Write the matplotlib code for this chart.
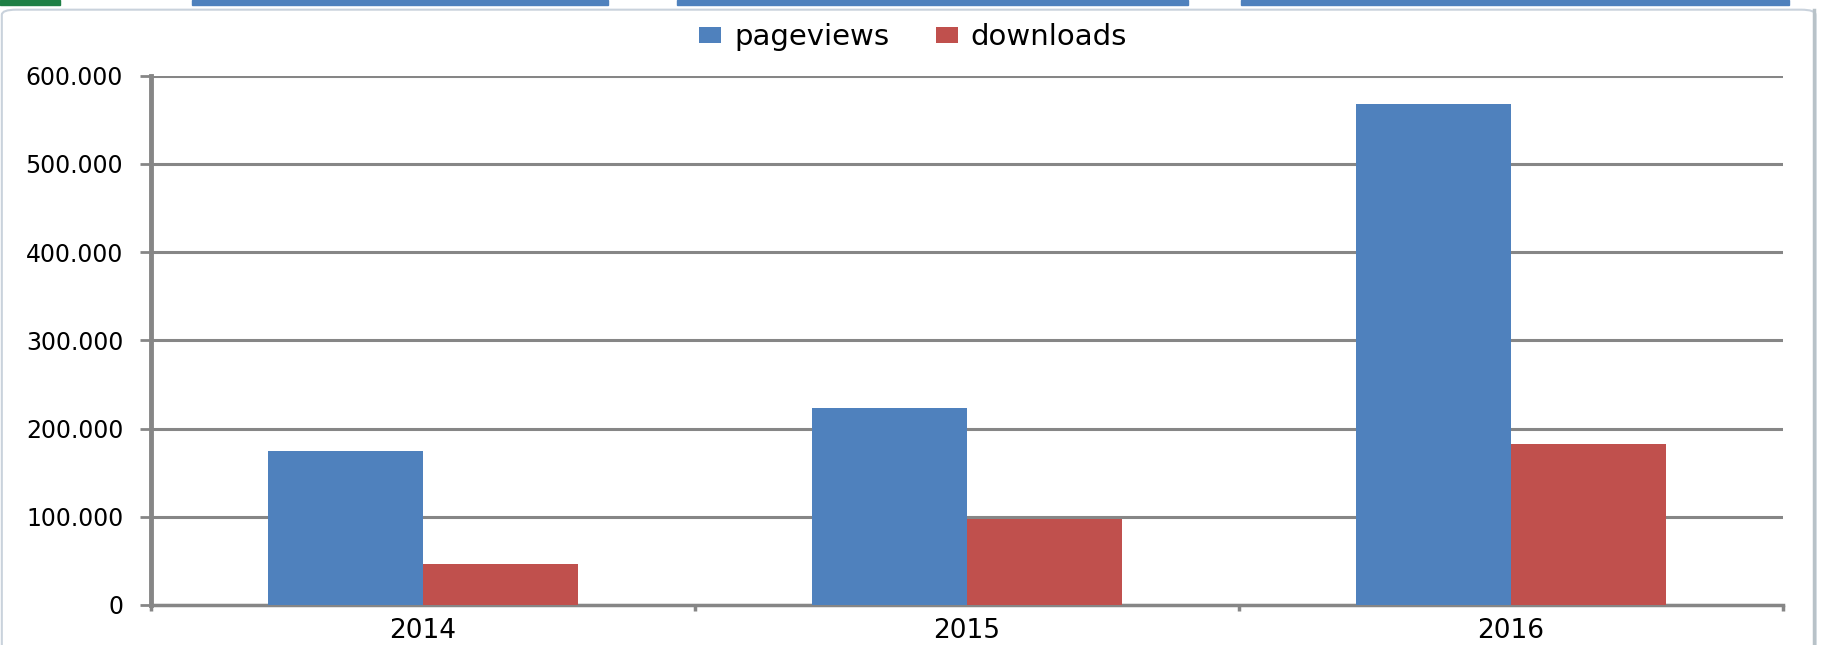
import numpy as np
import matplotlib.pyplot as plt
from matplotlib.patches import Rectangle, FancyBboxPatch
from matplotlib.ticker import FuncFormatter

years = ["2014", "2015", "2016"]
pageviews = [174000, 223000, 568000]
downloads = [47000, 97000, 182000]
yticks = [0, 100000, 200000, 300000, 400000, 500000, 600000]

blue = "#4F81BD"
red = "#C0504D"
grey = "#868686"

plt.rcParams['font.family'] = ['DejaVu Sans']

fig = plt.figure(figsize=(18.21, 6.45), dpi=100)

# screenshot frame bits (tabs above, chart border)
fig.patches.append(Rectangle((0, 0.992), 60 / 1821, 0.008, transform=fig.transFigure,
                             color="#1E7F45", zorder=-2))
for x0, x1 in [(192, 608), (677, 1188), (1241, 1789)]:
    fig.patches.append(Rectangle((x0 / 1821, 0.993), (x1 - x0) / 1821, 0.007,
                                 transform=fig.transFigure, color="#4F81BD", zorder=-2))
fig.patches.append(FancyBboxPatch((0.001, -0.05), 0.996, 1.035, transform=fig.transFigure,
                                  boxstyle="round,pad=0,rounding_size=0.008",
                                  fc="white", ec="#C9D2DC", lw=1.5, zorder=-1))

ax = fig.add_axes([151 / 1821, 1 - 605 / 645, (1783 - 151) / 1821, (605 - 75.5) / 645])
ax.set_zorder(1)
ax.set_facecolor("none")

x = np.arange(len(years))
w = 1 / 3.5
ax.bar(x - w / 2, pageviews, w, color=blue, label="pageviews", zorder=3)
ax.bar(x + w / 2, downloads, w, color=red, label="downloads", zorder=3)

ax.set_xlim(-0.5, len(years) - 0.5)
ax.set_ylim(0, 600000)
ax.set_yticks(yticks)
ax.yaxis.set_major_formatter(FuncFormatter(lambda v, p: f"{int(v):,}".replace(",", ".")))
ax.grid(axis="y", color=grey, lw=2.2, zorder=0)

ax.set_xticks(np.arange(len(years) + 1) - 0.5)
ax.set_xticklabels([])
ax.set_xticks(x, minor=True)
ax.set_xticklabels(years, minor=True, fontsize=19)
ax.tick_params(axis="x", which="minor", length=0, pad=9)
ax.tick_params(axis="x", which="major", length=4.5, width=2.5, color=grey, direction="out")
ax.tick_params(axis="y", length=8, width=2, color=grey, labelsize=17, pad=12)

for s in ["top", "right"]:
    ax.spines[s].set_visible(False)
ax.spines["left"].set_color(grey)
ax.spines["left"].set_linewidth(3.5)
ax.spines["bottom"].set_color(grey)
ax.spines["bottom"].set_linewidth(2.5)

fig.legend(loc="center", bbox_to_anchor=(913 / 1821, 1 - 37 / 645), ncol=2, frameon=False,
           fontsize=21, handlelength=0.75, handleheight=0.48, handletextpad=0.45,
           columnspacing=1.6)

# right chart border
fig.add_artist(plt.Line2D([1814 / 1821, 1814 / 1821], [0, 0.985], color="#B8C2C8", lw=2.5))

fig.savefig("out.png", dpi=100)
